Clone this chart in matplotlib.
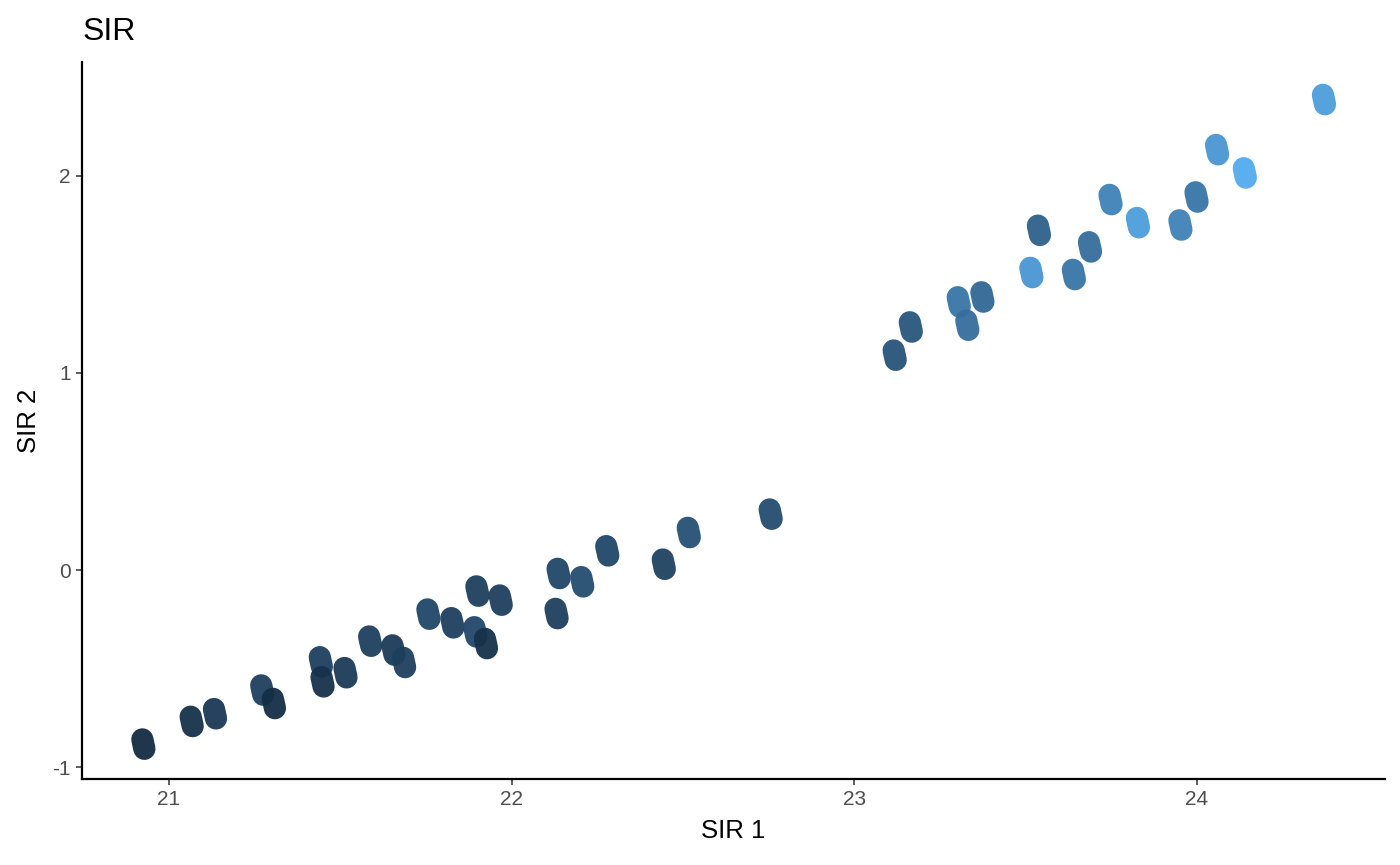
import matplotlib.pyplot as plt
import numpy as np
from matplotlib.collections import LineCollection
from matplotlib.colors import LinearSegmentedColormap

# ---- data ----
sir1 = [20.925, 21.066, 21.134, 21.272, 21.306, 21.443, 21.448, 21.515, 21.587,
        21.655, 21.686, 21.757, 21.827, 21.900, 21.894, 21.925, 21.968, 22.137,
        22.131, 22.206, 22.279, 22.444, 22.517, 22.756, 23.118, 23.165, 23.305,
        23.330, 23.374, 23.539, 23.517, 23.641, 23.688, 23.748, 23.828, 23.952,
        23.999, 24.059, 24.140, 24.371]
sir2 = [-0.882, -0.767, -0.728, -0.608, -0.676, -0.465, -0.566, -0.520, -0.360,
        -0.405, -0.468, -0.223, -0.267, -0.106, -0.313, -0.372, -0.152, -0.017,
        -0.220, -0.059, 0.098, 0.030, 0.191, 0.284, 1.090, 1.233, 1.360,
        1.242, 1.385, 1.723, 1.509, 1.499, 1.639, 1.879, 1.762, 1.750,
        1.892, 2.132, 2.014, 2.386]
level = [0.00, 0.05, 0.10, 0.15, 0.02, 0.15, 0.05, 0.12, 0.15,
         0.12, 0.15, 0.20, 0.15, 0.15, 0.22, 0.05, 0.15, 0.20,
         0.15, 0.25, 0.20, 0.17, 0.28, 0.25, 0.30, 0.32, 0.55,
         0.50, 0.45, 0.40, 0.80, 0.55, 0.50, 0.65, 0.85, 0.65,
         0.55, 0.80, 0.95, 0.85]

# ---- style ----
plt.rcParams['font.family'] = ['Liberation Sans', 'DejaVu Sans']
cmap = LinearSegmentedColormap.from_list('gg', ['#132B43', '#56B1F7'])

fig = plt.figure(figsize=(14, 8.65), dpi=100)
ax = fig.add_axes([0.0586, 0.0994, 0.9304, 0.8286])

# each point is drawn as a short tilted pill (round-capped segment)
dx, dy = 0.003, 0.024
x = np.array(sir1)
y = np.array(sir2)
segs = [[(xi - dx, yi + dy), (xi + dx, yi - dy)] for xi, yi in zip(x, y)]
lc = LineCollection(segs, colors=cmap(np.array(level)), linewidths=16,
                    capstyle='round', alpha=0.95)
ax.add_collection(lc)

ax.set_xlim(20.746, 24.548)
ax.set_ylim(-1.059, 2.575)
ax.set_xticks([21, 22, 23, 24])
ax.set_yticks([-1, 0, 1, 2])
ax.set_xticklabels(['21', '22', '23', '24'])
ax.set_yticklabels(['-1', '0', '1', '2'])

for s in ['top', 'right']:
    ax.spines[s].set_visible(False)
for s in ['left', 'bottom']:
    ax.spines[s].set_linewidth(1.6)
    ax.spines[s].set_color('black')
ax.tick_params(length=4, width=1.1, color='#333333', labelcolor='#4D4D4D',
               labelsize=15, pad=4)

ax.set_xlabel('SIR 1', fontsize=18.5, color='black', labelpad=7)
ax.set_ylabel('SIR 2', fontsize=18.5, color='black', labelpad=8)
ax.set_title('SIR', fontsize=23, loc='left', color='black', pad=16)

plt.savefig('out.png', dpi=100)
